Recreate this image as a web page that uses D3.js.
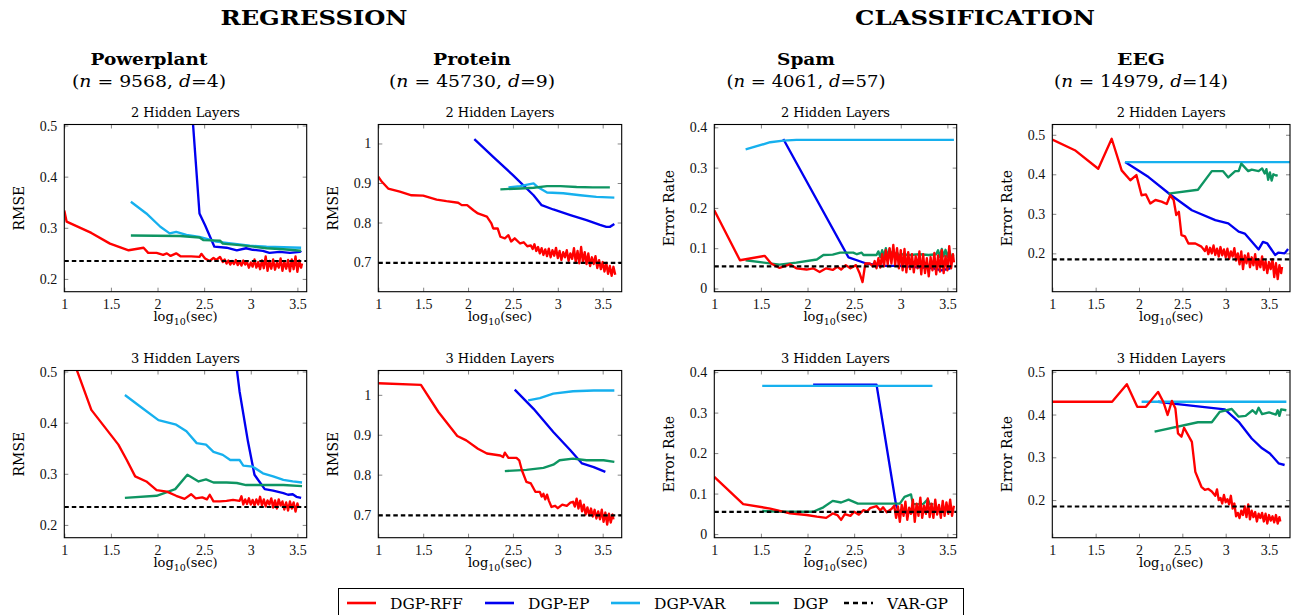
<!DOCTYPE html>
<html><head><meta charset="utf-8">
<script src="https://cdn.jsdelivr.net/npm/d3@7"></script>
<style>body{margin:0;background:#fff}svg{display:block}</style>
</head><body>
<svg id="c" width="1291" height="615"></svg>
<script>
// ---------------- DATA ----------------
const seriesNames = ["DGP-RFF", "DGP-EP", "DGP-VAR", "DGP", "VAR-GP"];
const xTickValues = [1, 1.5, 2, 2.5, 3, 3.5];
const rmsePPTicks = [0.2, 0.3, 0.4, 0.5];
const rmsePRTicks = [0.7, 0.8, 0.9, 1];
const errSpamTicks = [0, 0.1, 0.2, 0.3, 0.4];
const errEEGTicks = [0.2, 0.3, 0.4, 0.5];
const varGPLevel = { pp: 0.235, pr: 0.698, sp: 0.055, eeg: 0.185 };

// Powerplant, 2 hidden layers
const pp2_rff = [[1.0,0.334],[1.025,0.312],[1.29,0.290],[1.49,0.269],[1.69,0.256],[1.85,0.261],[1.9,0.251],[1.99,0.251],[2.06,0.247],[2.1,0.250],[2.14,0.245],[2.2,0.250],[2.25,0.244],[2.36,0.244],[2.45,0.243],[2.47,0.249],[2.51,0.240],[2.56,0.235],[2.6,0.241],[2.63,0.237],[2.67,0.243],[2.7,0.233],[2.72,0.238],[2.74,0.230],[2.76,0.236],[2.78,0.228],[2.80,0.235],[2.82,0.229],[2.84,0.237],[2.86,0.227],[2.88,0.234],[2.90,0.226],[2.92,0.236],[2.94,0.228],[2.96,0.233],[2.98,0.222],[3.00,0.232],[3.02,0.224],[3.04,0.238],[3.06,0.222],[3.08,0.233],[3.10,0.219],[3.12,0.236],[3.14,0.221],[3.16,0.244],[3.18,0.216],[3.20,0.235],[3.22,0.220],[3.24,0.238],[3.26,0.218],[3.28,0.232],[3.30,0.222],[3.32,0.240],[3.34,0.216],[3.36,0.234],[3.38,0.220],[3.40,0.237],[3.42,0.215],[3.44,0.238],[3.46,0.219],[3.48,0.244],[3.50,0.214],[3.52,0.236],[3.54,0.222],[3.55,0.230]];
const pp2_ep = [[2.37,0.53],[2.45,0.328],[2.51,0.305],[2.61,0.263],[2.74,0.261],[2.85,0.256],[2.95,0.260],[3.02,0.257],[3.13,0.255],[3.2,0.251],[3.31,0.253],[3.42,0.251],[3.53,0.253],[3.54,0.255]];
const pp2_var = [[1.714,0.351],[1.88,0.328],[2.03,0.302],[2.13,0.289],[2.2,0.292],[2.31,0.286],[2.45,0.282],[2.52,0.279],[2.63,0.273],[2.81,0.269],[2.99,0.265],[3.17,0.263],[3.35,0.262],[3.54,0.261]];
const pp2_dgp = [[1.714,0.285],[2.24,0.284],[2.45,0.281],[2.49,0.276],[2.67,0.275],[2.7,0.269],[2.88,0.266],[3.03,0.263],[3.17,0.260],[3.35,0.258],[3.54,0.255]];

// Protein, 2 hidden layers
const pr2_rff = [[1.0,0.916],[1.04,0.903],[1.11,0.886],[1.24,0.878],[1.37,0.869],[1.5,0.868],[1.65,0.858],[1.76,0.854],[1.89,0.850],[1.93,0.844],[1.99,0.844],[2.06,0.831],[2.11,0.823],[2.21,0.815],[2.26,0.798],[2.28,0.785],[2.33,0.785],[2.36,0.764],[2.41,0.760],[2.45,0.768],[2.48,0.752],[2.52,0.760],[2.58,0.747],[2.62,0.750],[2.66,0.740],[2.7,0.742],[2.72,0.733],[2.74,0.745],[2.76,0.728],[2.78,0.738],[2.80,0.722],[2.82,0.735],[2.84,0.718],[2.86,0.732],[2.88,0.715],[2.90,0.734],[2.92,0.712],[2.94,0.730],[2.96,0.716],[2.98,0.736],[3.00,0.710],[3.02,0.728],[3.04,0.705],[3.06,0.725],[3.08,0.712],[3.10,0.730],[3.12,0.703],[3.14,0.722],[3.16,0.708],[3.18,0.735],[3.20,0.700],[3.22,0.728],[3.24,0.697],[3.26,0.738],[3.28,0.700],[3.30,0.725],[3.32,0.695],[3.34,0.722],[3.36,0.690],[3.38,0.712],[3.40,0.695],[3.42,0.715],[3.44,0.685],[3.46,0.705],[3.48,0.682],[3.50,0.700],[3.52,0.676],[3.54,0.698],[3.56,0.670],[3.58,0.690],[3.60,0.665],[3.62,0.688],[3.64,0.668]];
const pr2_ep = [[2.07,1.011],[2.28,0.966],[2.5,0.920],[2.73,0.869],[2.82,0.844],[2.95,0.833],[3.14,0.819],[3.32,0.806],[3.47,0.794],[3.54,0.789],[3.58,0.789],[3.63,0.796]];
const pr2_var = [[2.45,0.889],[2.58,0.892],[2.73,0.899],[2.78,0.889],[2.88,0.876],[3.06,0.874],[3.25,0.869],[3.43,0.865],[3.63,0.863]];
const pr2_dgp = [[2.36,0.884],[2.58,0.886],[2.73,0.888],[2.88,0.892],[3.03,0.892],[3.21,0.890],[3.39,0.889],[3.58,0.889]];

// Spam, 2 hidden layers
const sp2_rff = [[1.0,0.194],[1.275,0.070],[1.54,0.081],[1.61,0.062],[1.7,0.051],[1.81,0.060],[1.88,0.050],[1.99,0.047],[2.06,0.050],[2.13,0.041],[2.2,0.050],[2.27,0.046],[2.32,0.054],[2.36,0.047],[2.41,0.058],[2.46,0.050],[2.52,0.058],[2.56,0.037],[2.59,0.016],[2.62,0.062],[2.67,0.062],[2.70,0.055],[2.72,0.068],[2.74,0.050],[2.76,0.075],[2.78,0.052],[2.80,0.085],[2.82,0.055],[2.84,0.095],[2.86,0.060],[2.88,0.100],[2.90,0.062],[2.92,0.108],[2.94,0.058],[2.96,0.100],[2.98,0.050],[3.00,0.095],[3.02,0.045],[3.04,0.098],[3.06,0.040],[3.08,0.090],[3.10,0.048],[3.12,0.085],[3.14,0.040],[3.16,0.080],[3.18,0.050],[3.20,0.092],[3.22,0.035],[3.24,0.085],[3.26,0.038],[3.28,0.075],[3.30,0.030],[3.32,0.078],[3.34,0.045],[3.36,0.088],[3.38,0.035],[3.40,0.082],[3.42,0.042],[3.44,0.095],[3.46,0.038],[3.48,0.080],[3.50,0.045],[3.52,0.105],[3.54,0.050],[3.56,0.085],[3.57,0.065]];
const sp2_ep = [[1.74,0.371],[2.44,0.077],[2.63,0.062],[2.8,0.056],[2.99,0.056],[3.17,0.053],[3.35,0.050],[3.44,0.045],[3.53,0.050]];
const sp2_var = [[1.336,0.345],[1.6,0.363],[1.74,0.367],[1.88,0.369],[3.57,0.369]];
const sp2_dgp = [[1.336,0.070],[1.7,0.059],[1.88,0.064],[2.1,0.072],[2.17,0.083],[2.27,0.084],[2.35,0.089],[2.49,0.089],[2.53,0.085],[2.58,0.089],[2.6,0.083],[2.74,0.083],[2.76,0.092],[2.78,0.078],[2.80,0.095],[2.82,0.080],[2.84,0.100],[2.86,0.078],[2.88,0.098],[2.90,0.080],[2.92,0.095],[2.94,0.082],[2.96,0.090],[2.98,0.080],[3.0,0.085],[3.1,0.083],[3.2,0.085],[3.3,0.083],[3.38,0.085],[3.40,0.095],[3.42,0.078],[3.44,0.098],[3.46,0.080],[3.48,0.096],[3.50,0.078],[3.52,0.094],[3.54,0.080],[3.57,0.083]];

// EEG, 2 hidden layers
const eeg2_rff = [[1.0,0.488],[1.26,0.461],[1.53,0.414],[1.685,0.490],[1.8,0.410],[1.9,0.385],[1.97,0.398],[2.03,0.347],[2.08,0.349],[2.13,0.326],[2.19,0.335],[2.26,0.331],[2.32,0.325],[2.36,0.347],[2.40,0.335],[2.43,0.297],[2.46,0.305],[2.49,0.246],[2.53,0.243],[2.57,0.225],[2.65,0.225],[2.72,0.217],[2.76,0.206],[2.78,0.218],[2.80,0.198],[2.82,0.214],[2.84,0.200],[2.86,0.220],[2.88,0.196],[2.90,0.212],[2.92,0.192],[2.94,0.216],[2.96,0.195],[2.98,0.210],[3.00,0.190],[3.02,0.212],[3.04,0.186],[3.06,0.205],[3.08,0.192],[3.10,0.213],[3.12,0.182],[3.14,0.200],[3.16,0.172],[3.18,0.205],[3.20,0.160],[3.22,0.195],[3.24,0.175],[3.26,0.200],[3.28,0.165],[3.30,0.190],[3.32,0.170],[3.34,0.198],[3.36,0.160],[3.38,0.185],[3.40,0.165],[3.42,0.192],[3.44,0.158],[3.46,0.180],[3.48,0.150],[3.50,0.178],[3.52,0.160],[3.54,0.185],[3.56,0.140],[3.58,0.175],[3.60,0.135],[3.62,0.170],[3.64,0.150],[3.65,0.166]];
const eeg2_ep = [[1.84,0.431],[2.11,0.393],[2.36,0.349],[2.61,0.309],[2.88,0.284],[3.03,0.276],[3.15,0.255],[3.22,0.250],[3.38,0.210],[3.43,0.229],[3.48,0.225],[3.57,0.196],[3.61,0.202],[3.68,0.200],[3.72,0.211]];
const eeg2_var = [[1.84,0.431],[3.74,0.431]];
const eeg2_dgp = [[2.34,0.351],[2.68,0.361],[2.84,0.408],[2.97,0.408],[3.03,0.392],[3.11,0.408],[3.15,0.408],[3.18,0.427],[3.26,0.408],[3.3,0.412],[3.38,0.408],[3.42,0.415],[3.45,0.402],[3.47,0.413],[3.49,0.386],[3.51,0.405],[3.53,0.384],[3.55,0.400],[3.58,0.397],[3.6,0.398]];

// Powerplant, 3 hidden layers
const pp3_rff = [[1.12,0.51],[1.29,0.425],[1.58,0.357],[1.67,0.327],[1.76,0.295],[1.88,0.285],[1.99,0.268],[2.1,0.265],[2.2,0.257],[2.29,0.251],[2.36,0.260],[2.41,0.252],[2.48,0.254],[2.53,0.250],[2.56,0.259],[2.6,0.246],[2.67,0.246],[2.74,0.247],[2.81,0.249],[2.88,0.247],[2.9,0.256],[2.92,0.240],[2.94,0.250],[2.96,0.241],[2.98,0.252],[3.00,0.240],[3.02,0.249],[3.04,0.238],[3.06,0.250],[3.08,0.240],[3.10,0.255],[3.12,0.238],[3.14,0.250],[3.16,0.236],[3.18,0.248],[3.20,0.240],[3.22,0.252],[3.24,0.234],[3.26,0.248],[3.28,0.232],[3.30,0.250],[3.32,0.238],[3.34,0.246],[3.36,0.230],[3.38,0.244],[3.40,0.228],[3.42,0.246],[3.44,0.232],[3.46,0.244],[3.48,0.226],[3.50,0.242],[3.51,0.236]];
const pp3_ep = [[2.84,0.52],[2.88,0.461],[2.97,0.363],[3.04,0.298],[3.15,0.270],[3.24,0.267],[3.35,0.262],[3.40,0.259],[3.45,0.260],[3.49,0.255],[3.54,0.253]];
const pp3_var = [[1.65,0.454],[1.81,0.432],[2.01,0.405],[2.2,0.396],[2.31,0.383],[2.42,0.360],[2.52,0.357],[2.6,0.343],[2.7,0.337],[2.78,0.327],[2.88,0.327],[2.92,0.316],[3.02,0.314],[3.13,0.301],[3.24,0.295],[3.35,0.288],[3.45,0.285],[3.55,0.283]];
const pp3_dgp = [[1.65,0.253],[1.99,0.257],[2.19,0.270],[2.32,0.298],[2.44,0.285],[2.52,0.289],[2.6,0.283],[2.74,0.283],[2.85,0.282],[2.95,0.278],[3.17,0.278],[3.35,0.278],[3.55,0.276]];

// Protein, 3 hidden layers
const pr3_rff = [[1.0,1.029],[1.475,1.025],[1.67,0.957],[1.88,0.897],[1.98,0.886],[2.11,0.865],[2.21,0.853],[2.36,0.848],[2.39,0.844],[2.41,0.855],[2.45,0.842],[2.54,0.842],[2.57,0.836],[2.6,0.811],[2.65,0.782],[2.7,0.778],[2.75,0.757],[2.8,0.757],[2.82,0.745],[2.84,0.752],[2.86,0.738],[2.88,0.750],[2.9,0.735],[2.93,0.719],[2.97,0.722],[3.0,0.716],[3.05,0.725],[3.1,0.722],[3.14,0.730],[3.17,0.732],[3.19,0.720],[3.21,0.740],[3.23,0.715],[3.25,0.735],[3.27,0.708],[3.29,0.725],[3.31,0.700],[3.33,0.718],[3.35,0.698],[3.37,0.715],[3.39,0.695],[3.41,0.712],[3.43,0.690],[3.45,0.708],[3.47,0.688],[3.49,0.712],[3.51,0.682],[3.53,0.705],[3.55,0.675],[3.57,0.702],[3.59,0.680],[3.61,0.700],[3.62,0.688]];
const pr3_ep = [[2.52,1.013],[2.73,0.965],[2.95,0.907],[3.14,0.861],[3.27,0.828],[3.4,0.819],[3.53,0.807]];
const pr3_var = [[2.67,0.986],[2.8,0.992],[2.95,1.003],[3.17,1.009],[3.4,1.011],[3.63,1.011]];
const pr3_dgp = [[2.41,0.809],[2.65,0.812],[2.84,0.817],[2.95,0.825],[3.02,0.836],[3.17,0.840],[3.32,0.836],[3.51,0.836],[3.63,0.832]];

// Spam, 3 hidden layers
const sp3_rff = [[1.0,0.141],[1.31,0.074],[1.6,0.063],[1.81,0.051],[1.99,0.047],[2.1,0.043],[2.2,0.040],[2.27,0.051],[2.32,0.047],[2.36,0.035],[2.4,0.049],[2.46,0.045],[2.5,0.055],[2.55,0.048],[2.6,0.059],[2.64,0.056],[2.67,0.064],[2.74,0.069],[2.78,0.058],[2.81,0.066],[2.85,0.054],[2.9,0.062],[2.93,0.070],[2.95,0.040],[2.97,0.068],[2.99,0.030],[3.01,0.072],[3.03,0.045],[3.05,0.080],[3.07,0.035],[3.09,0.065],[3.11,0.050],[3.13,0.085],[3.15,0.030],[3.17,0.075],[3.19,0.045],[3.21,0.090],[3.23,0.040],[3.25,0.070],[3.27,0.050],[3.29,0.088],[3.31,0.042],[3.33,0.075],[3.35,0.040],[3.37,0.085],[3.39,0.048],[3.41,0.072],[3.43,0.040],[3.45,0.082],[3.47,0.045],[3.49,0.078],[3.51,0.050],[3.53,0.085],[3.55,0.045],[3.57,0.070]];
const sp3_ep = [[2.06,0.369],[2.74,0.369],[2.95,0.071],[2.99,0.051],[3.17,0.055],[3.35,0.058]];
const sp3_var = [[1.514,0.366],[3.34,0.366]];
const sp3_dgp = [[1.514,0.057],[1.74,0.055],[2.06,0.055],[2.17,0.066],[2.27,0.082],[2.36,0.078],[2.44,0.085],[2.54,0.075],[2.81,0.075],[2.99,0.075],[3.04,0.092],[3.11,0.098],[3.13,0.074],[3.24,0.074],[3.29,0.086],[3.31,0.074],[3.35,0.074]];

// EEG, 3 hidden layers
const eeg3_rff = [[1.0,0.430],[1.69,0.430],[1.86,0.471],[1.98,0.418],[2.08,0.418],[2.22,0.453],[2.28,0.430],[2.33,0.399],[2.38,0.432],[2.42,0.414],[2.45,0.356],[2.49,0.348],[2.52,0.369],[2.61,0.336],[2.65,0.266],[2.72,0.231],[2.76,0.224],[2.8,0.226],[2.84,0.220],[2.88,0.210],[2.9,0.225],[2.92,0.200],[2.94,0.205],[2.96,0.192],[2.98,0.212],[3.0,0.195],[3.02,0.202],[3.04,0.190],[3.06,0.210],[3.08,0.180],[3.10,0.192],[3.12,0.162],[3.14,0.170],[3.16,0.158],[3.18,0.175],[3.20,0.165],[3.22,0.185],[3.24,0.160],[3.26,0.190],[3.28,0.155],[3.30,0.175],[3.32,0.160],[3.34,0.172],[3.36,0.150],[3.38,0.168],[3.40,0.158],[3.42,0.170],[3.44,0.150],[3.46,0.168],[3.48,0.145],[3.50,0.165],[3.52,0.152],[3.54,0.162],[3.56,0.148],[3.58,0.165],[3.60,0.145],[3.62,0.160],[3.63,0.150]];
const eeg3_ep = [[2.22,0.430],[2.42,0.425],[2.99,0.412],[3.15,0.383],[3.3,0.344],[3.42,0.321],[3.51,0.309],[3.61,0.286],[3.68,0.282]];
const eeg3_var = [[2.03,0.430],[3.7,0.430]];
const eeg3_dgp = [[2.18,0.360],[2.68,0.382],[2.84,0.382],[2.93,0.406],[3.07,0.413],[3.15,0.395],[3.23,0.397],[3.31,0.410],[3.35,0.402],[3.38,0.416],[3.42,0.401],[3.5,0.405],[3.58,0.400],[3.6,0.410],[3.62,0.397],[3.64,0.412],[3.7,0.410]];

// ---------------- STYLE / LAYOUT ----------------
const colors = { rff: "#ff0000", ep: "#0000f0", var: "#16b0ee", dgp: "#0e9562", vargp: "#000000" };
const cols = [
  { left: 64.3, right: 306.7, xmax: 3.6, center: 149, name: "Powerplant", nameW: 117, n: "9568", d: "4", subW: 154, ylabel: "RMSE" },
  { left: 378.3, right: 621.7, xmax: 3.712, center: 472, name: "Protein", nameW: 78, n: "45730", d: "9", subW: 166, ylabel: "RMSE" },
  { left: 714.3, right: 956.7, xmax: 3.6, center: 806, name: "Spam", nameW: 58, n: "4061", d: "57", subW: 159, ylabel: "Error Rate" },
  { left: 1052.3, right: 1290, xmax: 3.742, center: 1141, name: "EEG", nameW: 48, n: "14979", d: "14", subW: 174, ylabel: "Error Rate" }
];
const rows = [
  { top: 124.5, bottom: 291.7, title: "2 Hidden Layers" },
  { top: 370.5, bottom: 537.7, title: "3 Hidden Layers" }
];
const panels = [
  { r: 0, c: 0, yd: [0.175, 0.502], yt: rmsePPTicks, lvl: varGPLevel.pp, s: { ep: pp2_ep, var: pp2_var, dgp: pp2_dgp, rff: pp2_rff } },
  { r: 0, c: 1, yd: [0.625, 1.048], yt: rmsePRTicks, lvl: varGPLevel.pr, s: { ep: pr2_ep, var: pr2_var, dgp: pr2_dgp, rff: pr2_rff } },
  { r: 0, c: 2, yd: [-0.008, 0.407], yt: errSpamTicks, lvl: varGPLevel.sp, s: { ep: sp2_ep, var: sp2_var, dgp: sp2_dgp, rff: sp2_rff } },
  { r: 0, c: 3, yd: [0.103, 0.526], yt: errEEGTicks, lvl: varGPLevel.eeg, s: { ep: eeg2_ep, var: eeg2_var, dgp: eeg2_dgp, rff: eeg2_rff } },
  { r: 1, c: 0, yd: [0.175, 0.502], yt: rmsePPTicks, lvl: varGPLevel.pp, s: { ep: pp3_ep, var: pp3_var, dgp: pp3_dgp, rff: pp3_rff } },
  { r: 1, c: 1, yd: [0.642, 1.061], yt: rmsePRTicks, lvl: varGPLevel.pr, s: { ep: pr3_ep, var: pr3_var, dgp: pr3_dgp, rff: pr3_rff } },
  { r: 1, c: 2, yd: [-0.009, 0.404], yt: errSpamTicks, lvl: varGPLevel.sp, s: { ep: sp3_ep, var: sp3_var, dgp: sp3_dgp, rff: sp3_rff } },
  { r: 1, c: 3, yd: [0.112, 0.503], yt: errEEGTicks, lvl: varGPLevel.eeg, s: { ep: eeg3_ep, var: eeg3_var, dgp: eeg3_dgp, rff: eeg3_rff } }
];
const drawOrder = ["ep", "var", "dgp", "rff"];
const serif = "'DejaVu Serif', serif";
const tickFont = "'Liberation Serif', 'Times New Roman', serif";

const svg = d3.select("#c");
svg.append("rect").attr("width", 1291).attr("height", 615).attr("fill", "#fff");

// Group titles
[["REGRESSION", 314, 187], ["CLASSIFICATION", 975, 240]].forEach(([t, x, w]) => {
  svg.append("text").attr("x", x).attr("y", 25).attr("text-anchor", "middle")
    .attr("font-family", serif).attr("font-weight", "bold").attr("font-size", 21)
    .attr("textLength", w).attr("lengthAdjust", "spacingAndGlyphs").text(t);
});

// Dataset titles
cols.forEach(c => {
  svg.append("text").attr("x", c.center).attr("y", 65).attr("text-anchor", "middle")
    .attr("font-family", serif).attr("font-weight", "bold").attr("font-size", 17)
    .attr("textLength", c.nameW).attr("lengthAdjust", "spacingAndGlyphs").text(c.name);
  const t = svg.append("text").attr("x", c.center).attr("y", 87).attr("text-anchor", "middle")
    .attr("font-family", serif).attr("font-size", 16)
    .attr("textLength", c.subW).attr("lengthAdjust", "spacingAndGlyphs");
  t.append("tspan").text("(");
  t.append("tspan").attr("font-style", "italic").text("n");
  t.append("tspan").text(" = " + c.n + ", ");
  t.append("tspan").attr("font-style", "italic").text("d");
  t.append("tspan").text("=" + c.d + ")");
});

panels.forEach((p, i) => {
  const c = cols[p.c], r = rows[p.r];
  const x = d3.scaleLinear().domain([1, c.xmax]).range([c.left, c.right]);
  const y = d3.scaleLinear().domain(p.yd).range([r.bottom, r.top]);
  const g = svg.append("g");

  // panel title
  g.append("text").attr("x", (c.left + c.right) / 2).attr("y", r.top - 7.5).attr("text-anchor", "middle")
    .attr("font-family", serif).attr("font-size", 13).text(r.title);

  // axes: inward ticks on all four sides
  const tickLen = 4;
  const axB = d3.axisBottom(x).tickValues(xTickValues).tickSize(-tickLen).tickPadding(7).tickFormat(d => String(d));
  const axT = d3.axisTop(x).tickValues(xTickValues).tickSize(-tickLen).tickFormat("");
  const axL = d3.axisLeft(y).tickValues(p.yt).tickSize(-tickLen).tickPadding(7).tickFormat(d => String(d));
  const axR = d3.axisRight(y).tickValues(p.yt).tickSize(-tickLen).tickFormat("");
  [[axB, `translate(0,${r.bottom})`], [axT, `translate(0,${r.top})`], [axL, `translate(${c.left},0)`], [axR, `translate(${c.right},0)`]]
    .forEach(([ax, tr]) => {
      const a = g.append("g").attr("transform", tr).call(ax);
      a.select(".domain").remove();
      a.selectAll(".tick line").attr("stroke", "#666").attr("stroke-width", 0.8);
      a.selectAll(".tick text").attr("font-family", tickFont).attr("font-size", 14).attr("fill", "#111");
    });

  // clip
  const cid = "clip" + i;
  svg.append("clipPath").attr("id", cid).append("rect")
    .attr("x", c.left).attr("y", r.top).attr("width", c.right - c.left).attr("height", r.bottom - r.top);
  const plot = g.append("g").attr("clip-path", `url(#${cid})`);
  const line = d3.line().x(d => x(d[0])).y(d => y(d[1]));
  drawOrder.forEach(k => {
    plot.append("path").datum(p.s[k]).attr("d", line).attr("fill", "none")
      .attr("stroke", colors[k]).attr("stroke-width", 2.35).attr("stroke-linejoin", "round");
  });
  plot.append("path").datum([[1, p.lvl], [c.xmax, p.lvl]]).attr("d", line).attr("fill", "none")
    .attr("stroke", colors.vargp).attr("stroke-width", 2.2).attr("stroke-dasharray", "4.5,3");

  // frame
  g.append("rect").attr("x", c.left).attr("y", r.top).attr("width", c.right - c.left).attr("height", r.bottom - r.top)
    .attr("fill", "none").attr("stroke", "#000").attr("stroke-width", 1.1);

  // y label
  g.append("text").attr("transform", `translate(${c.left - 45.5},${(r.top + r.bottom) / 2}) rotate(-90)`)
    .attr("text-anchor", "middle").attr("dominant-baseline", "central")
    .attr("font-family", serif).attr("font-size", 14).text(c.ylabel);

  // x label log10(sec)
  const xl = g.append("text").attr("x", (c.left + c.right) / 2).attr("y", r.bottom + 29.5).attr("text-anchor", "middle")
    .attr("font-family", serif).attr("font-size", 13);
  xl.append("tspan").text("log");
  xl.append("tspan").attr("font-size", 9.5).attr("dy", 3.5).text("10");
  xl.append("tspan").attr("dy", -3.5).text("(sec)");
});

// Legend
const legend = svg.append("g");
legend.append("rect").attr("x", 338.5).attr("y", 588.5).attr("width", 625).attr("height", 40)
  .attr("fill", "#fff").attr("stroke", "#000").attr("stroke-width", 1);
const legendKeys = ["rff", "ep", "var", "dgp", "vargp"];
const legendX = [347, 485, 611, 750, 844];
legendKeys.forEach((k, i) => {
  const lx = legendX[i];
  legend.append("line").attr("x1", lx).attr("x2", lx + 29).attr("y1", 603).attr("y2", 603)
    .attr("stroke", colors[k]).attr("stroke-width", 2.6)
    .attr("stroke-dasharray", k === "vargp" ? "5,4" : null);
  legend.append("text").attr("x", lx + 43).attr("y", 609).attr("font-family", serif).attr("font-size", 15.5)
    .text(seriesNames[i]);
});
</script>
</body></html>
